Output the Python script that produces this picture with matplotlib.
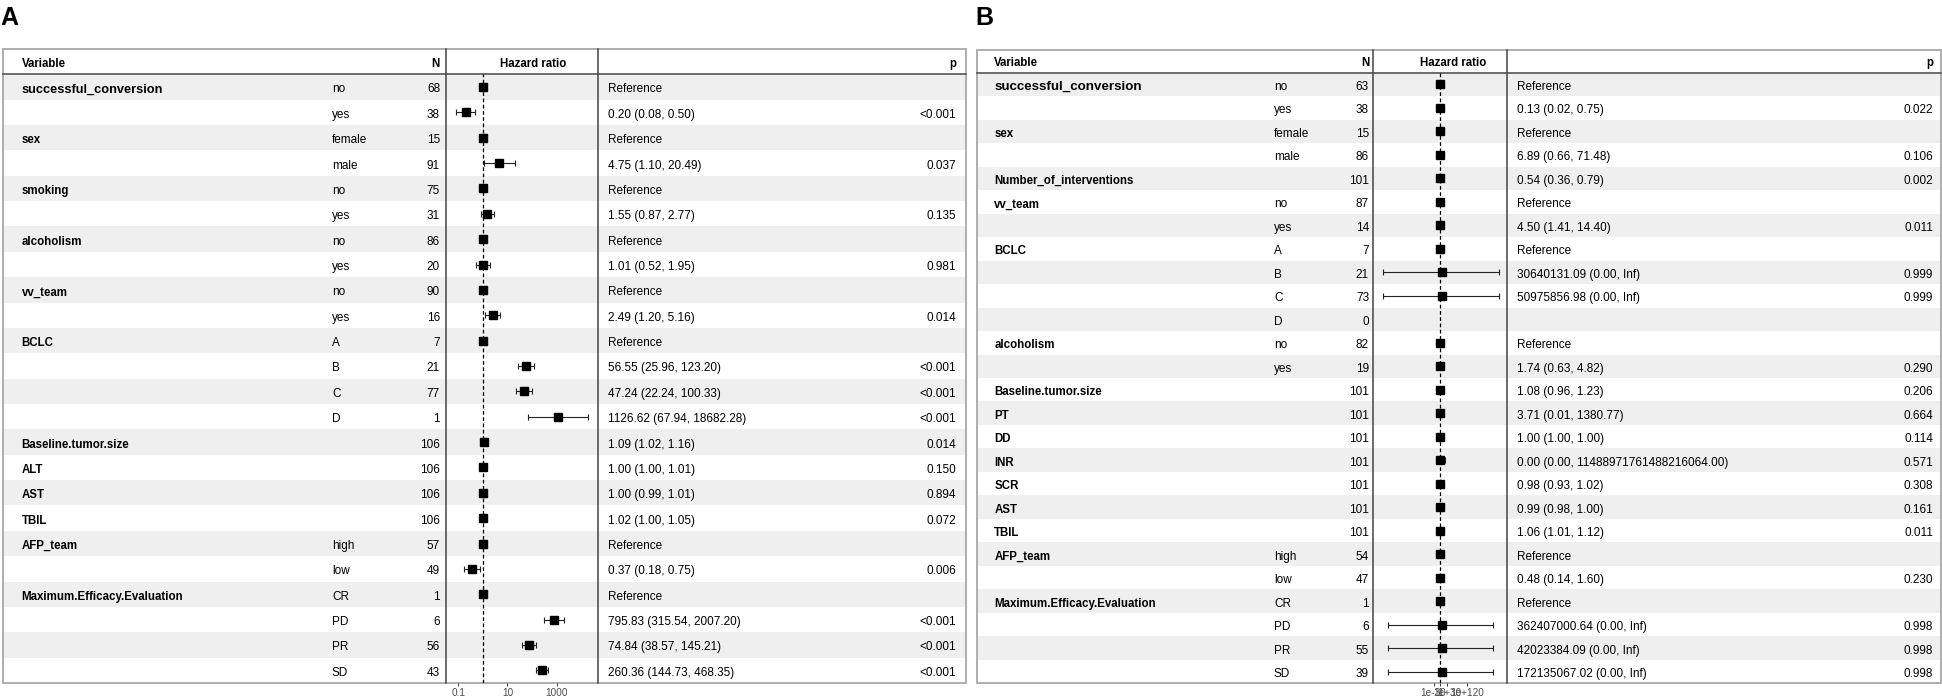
import numpy as np
import matplotlib.pyplot as plt
from matplotlib.patches import Rectangle
from matplotlib.ticker import NullLocator

plt.rcParams['font.family'] = ['Liberation Sans', 'DejaVu Sans']

W, H = 1942, 696
nan = np.nan

# ---------------- panel A data ----------------
a_var = ['successful_conversion', '', 'sex', '', 'smoking', '', 'alcoholism', '',
         'vv_team', '', 'BCLC', '', '', '', 'Baseline.tumor.size', 'ALT', 'AST', 'TBIL',
         'AFP_team', '', 'Maximum.Efficacy.Evaluation', '', '', '']
a_level = ['no', 'yes', 'female', 'male', 'no', 'yes', 'no', 'yes', 'no', 'yes',
           'A', 'B', 'C', 'D', '', '', '', '', 'high', 'low', 'CR', 'PD', 'PR', 'SD']
a_n = [68, 38, 15, 91, 75, 31, 86, 20, 90, 16, 7, 21, 77, 1, 106, 106, 106, 106,
       57, 49, 1, 6, 56, 43]
a_hr = [1, 0.20, 1, 4.75, 1, 1.55, 1, 1.01, 1, 2.49, 1, 56.55, 47.24, 1126.62,
        1.09, 1.00, 1.00, 1.02, 1, 0.37, 1, 795.83, 74.84, 260.36]
a_lo = [nan, 0.08, nan, 1.10, nan, 0.87, nan, 0.52, nan, 1.20, nan, 25.96, 22.24, 67.94,
        1.02, 1.00, 0.99, 1.00, nan, 0.18, nan, 315.54, 38.57, 144.73]
a_hi = [nan, 0.50, nan, 20.49, nan, 2.77, nan, 1.95, nan, 5.16, nan, 123.20, 100.33, 18682.28,
        1.16, 1.01, 1.01, 1.05, nan, 0.75, nan, 2007.20, 145.21, 468.35]
a_est = ['Reference', '0.20 (0.08, 0.50)', 'Reference', '4.75 (1.10, 20.49)',
         'Reference', '1.55 (0.87, 2.77)', 'Reference', '1.01 (0.52, 1.95)',
         'Reference', '2.49 (1.20, 5.16)', 'Reference', '56.55 (25.96, 123.20)',
         '47.24 (22.24, 100.33)', '1126.62 (67.94, 18682.28)', '1.09 (1.02, 1.16)',
         '1.00 (1.00, 1.01)', '1.00 (0.99, 1.01)', '1.02 (1.00, 1.05)', 'Reference',
         '0.37 (0.18, 0.75)', 'Reference', '795.83 (315.54, 2007.20)',
         '74.84 (38.57, 145.21)', '260.36 (144.73, 468.35)']
a_p = ['', '<0.001', '', '0.037', '', '0.135', '', '0.981', '', '0.014', '', '<0.001',
       '<0.001', '<0.001', '0.014', '0.150', '0.894', '0.072', '', '0.006', '',
       '<0.001', '<0.001', '<0.001']
a_ticks = [0.1, 10, 1000]
a_ticklabels = ['0.1', '10', '1000']

# ---------------- panel B data ----------------
b_var = ['successful_conversion', '', 'sex', '', 'Number_of_interventions', 'vv_team', '',
         'BCLC', '', '', '', 'alcoholism', '', 'Baseline.tumor.size', 'PT', 'DD', 'INR',
         'SCR', 'AST', 'TBIL', 'AFP_team', '', 'Maximum.Efficacy.Evaluation', '', '', '']
b_level = ['no', 'yes', 'female', 'male', '', 'no', 'yes', 'A', 'B', 'C', 'D', 'no', 'yes',
           '', '', '', '', '', '', '', 'high', 'low', 'CR', 'PD', 'PR', 'SD']
b_n = [63, 38, 15, 86, 101, 87, 14, 7, 21, 73, 0, 82, 19, 101, 101, 101, 101, 101, 101,
       101, 54, 47, 1, 6, 55, 39]
b_hr = [1, 0.13, 1, 6.89, 0.54, 1, 4.50, 1, 30640131.09, 50975856.98, nan, 1, 1.74,
        1.08, 3.71, 1.00, 1e-3, 0.98, 0.99, 1.06, 1, 0.48, 1, 362407000.64,
        42023384.09, 172135067.02]
# "0.00" / "Inf" bounds: where the whiskers end on the (very wide) log axis
b_lo = [nan, 0.02, nan, 0.66, 0.36, nan, 1.41, nan, 1e-258, 1e-258, nan, nan, 0.63,
        0.96, 0.01, 1.00, 1e-15, 0.93, 0.98, 1.01, nan, 0.14, nan, 1e-233, 1e-233, 1e-233]
b_hi = [nan, 0.75, nan, 71.48, 0.79, nan, 14.40, nan, 1e263, 1e263, nan, nan, 4.82,
        1.23, 1380.77, 1.00, 1.1488971761488216e19, 1.02, 1.00, 1.12, nan, 1.60, nan,
        1e235, 1e235, 1e235]
b_est = ['Reference', '0.13 (0.02, 0.75)', 'Reference', '6.89 (0.66, 71.48)',
         '0.54 (0.36, 0.79)', 'Reference', '4.50 (1.41, 14.40)', 'Reference',
         '30640131.09 (0.00, Inf)', '50975856.98 (0.00, Inf)', '', 'Reference',
         '1.74 (0.63, 4.82)', '1.08 (0.96, 1.23)', '3.71 (0.01, 1380.77)',
         '1.00 (1.00, 1.00)', '0.00 (0.00, 11488971761488216064.00)', '0.98 (0.93, 1.02)',
         '0.99 (0.98, 1.00)', '1.06 (1.01, 1.12)', 'Reference', '0.48 (0.14, 1.60)',
         'Reference', '362407000.64 (0.00, Inf)', '42023384.09 (0.00, Inf)',
         '172135067.02 (0.00, Inf)']
b_p = ['', '0.022', '', '0.106', '0.002', '', '0.011', '', '0.999', '0.999', '', '',
       '0.290', '0.206', '0.664', '0.114', '0.571', '0.308', '0.161', '0.011', '', '0.230',
       '', '0.998', '0.998', '0.998']
b_ticks = [1e-30, 1, 1e30, 1e120]
b_ticklabels = ['1e-30', '1', '1e+30', '1e+120']


def draw_panel(fig, bg, lab, lay, var, level, n, hr, lo, hi, est, p, ticks, ticklabels):
    x0, y0, x1, y1 = lay['box']
    hb = lay['head']
    s0, s1 = lay['sep']
    nrow = len(var)
    rh = (y1 - hb) / nrow

    bg.text(x0 - 2, 25, lab, fontsize=18, fontweight='bold', ha='left', va='baseline')

    # alternating row bands
    for i in range(nrow):
        if i % 2 == 0:
            bg.add_patch(Rectangle((x0, hb + i * rh), x1 - x0, rh, color='#EFEFEF', lw=0, zorder=1))

    # frame and rules
    bg.add_patch(Rectangle((x0, y0), x1 - x0, y1 - y0, fill=False, ec='#A8A8A8', lw=1.3, zorder=3))
    bg.plot([x0, x1], [hb, hb], color='#555555', lw=1.2, zorder=3)
    for s in (s0, s1):
        bg.plot([s, s], [y0, y1], color='#444444', lw=1.1, zorder=3)

    # header
    hy = (y0 + hb) / 2 + 2
    bg.text(lay['var'], hy, 'Variable', fontsize=8.3, fontweight='bold', va='center', zorder=4)
    bg.text(lay['n'], hy, 'N', fontsize=8.3, fontweight='bold', ha='right', va='center', zorder=4)
    bg.text(lay['hz'], hy, 'Hazard ratio', fontsize=8.3, fontweight='bold', ha='center', va='center', zorder=4)
    bg.text(lay['p'], hy, 'p', fontsize=8.3, fontweight='bold', ha='right', va='center', zorder=4)

    # table text
    for i in range(nrow):
        ty = hb + (i + 0.5) * rh + 2.5
        if var[i]:
            fs = lay['first_fs'] if i == 0 else 8.3
            bg.text(lay['var'], ty, var[i], fontsize=fs, fontweight='bold', va='center', zorder=4)
        bg.text(lay['lev'], ty, level[i], fontsize=8.5, va='center', zorder=4)
        bg.text(lay['n'], ty, str(n[i]), fontsize=8.5, ha='right', va='center', zorder=4)
        bg.text(lay['est'], ty, est[i], fontsize=8.5, va='center', zorder=4)
        bg.text(lay['p'], ty, p[i], fontsize=8.5, ha='right', va='center', zorder=4)

    # forest plot
    ax = fig.add_axes([s0 / W, 1 - y1 / H, (s1 - s0) / W, (y1 - hb) / H])
    ax.patch.set_visible(False)
    ax.set_xscale('log')
    one, ppd = lay['one'], lay['ppd']
    ax.set_xlim(10 ** ((s0 - one) / ppd), 10 ** ((s1 - one) / ppd))
    ax.set_ylim(y1, hb)
    ax.axvline(1, color='black', lw=0.9, ls=(0, (3, 2)), zorder=2)
    ys = hb + (np.arange(nrow) + 0.5) * rh
    hr = np.array(hr, float)
    lo = np.array(lo, float)
    hi = np.array(hi, float)
    for i in range(nrow):
        if np.isfinite(lo[i]):
            ax.plot([lo[i], hi[i]], [ys[i], ys[i]], color='#222222', lw=0.8, zorder=3,
                    solid_capstyle='butt')
            ax.plot([lo[i], hi[i]], [ys[i], ys[i]], ls='none', marker='|', ms=4,
                    mew=0.8, color='#222222', zorder=3)
    ok = np.isfinite(hr)
    ax.plot(hr[ok], ys[ok], 's', color='black', ms=lay['ms'], zorder=4)
    ax.set_yticks([])
    ax.set_xticks(ticks)
    ax.set_xticklabels(ticklabels)
    ax.xaxis.set_minor_locator(NullLocator())
    ax.tick_params(axis='x', length=2.5, width=0.7, color='#333333', labelsize=7.2,
                   labelcolor='#4D4D4D', pad=1.2)
    for sp in ax.spines.values():
        sp.set_visible(False)
    return ax


fig = plt.figure(figsize=(W / 100, H / 100), dpi=100)
bg = fig.add_axes([0, 0, 1, 1])
bg.set_xlim(0, W)
bg.set_ylim(H, 0)
bg.axis('off')

lay_a = dict(box=(2.5, 49, 965.7, 683), head=74.3, sep=(445.5, 598.3), var=21.7, lev=332,
             n=440, est=608.3, p=956, hz=532.7, one=482.8, ppd=24.6, ms=6.0, first_fs=9.2)
lay_b = dict(box=(977, 50, 1940.5, 683.3), head=72.7, sep=(1373.3, 1507.3), var=994.3, lev=1274,
             n=1369, est=1516.7, p=1933.3, hz=1453.5, one=1440.3, ppd=0.2233, ms=5.3, first_fs=9.6)

draw_panel(fig, bg, 'A', lay_a, a_var, a_level, a_n, a_hr, a_lo, a_hi, a_est, a_p,
           a_ticks, a_ticklabels)
draw_panel(fig, bg, 'B', lay_b, b_var, b_level, b_n, b_hr, b_lo, b_hi, b_est, b_p,
           b_ticks, b_ticklabels)

fig.savefig('out.png', dpi=100)
